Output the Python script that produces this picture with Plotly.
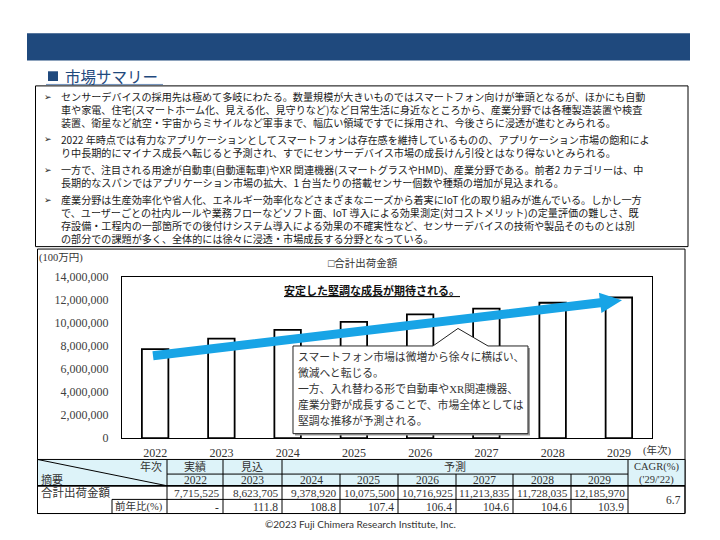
import plotly.graph_objects as go

# ---------------- data ----------------
years = ["2022", "2023", "2024", "2025", "2026", "2027", "2028", "2029"]
values = [7715525, 8623705, 9378920, 10075500, 10716925, 11213835, 11728035, 12185970]
yoy = ["-", "111.8", "108.8", "107.4", "106.4", "104.6", "104.6", "103.9"]
phase_labels = ["実績", "見込", "予測"]
cagr_value = "6.7"
series_name = "合計出荷金額"
y_ticks = [0, 2000000, 4000000, 6000000, 8000000, 10000000, 12000000, 14000000]

bullets = [
    ["センサーデバイスの採用先は極めて多岐にわたる。数量規模が大きいものではスマートフォン向けが筆頭となるが、ほかにも自動",
     "車や家電、住宅(スマートホーム化、見える化、見守りなど)など日常生活に身近なところから、産業分野では各種製造装置や検査",
     "装置、衛星など航空・宇宙からミサイルなど軍事まで、幅広い領域ですでに採用され、今後さらに浸透が進むとみられる。"],
    ["2022 年時点では有力なアプリケーションとしてスマートフォンは存在感を維持しているものの、アプリケーション市場の飽和によ",
     "り中長期的にマイナス成長へ転じると予測され、すでにセンサーデバイス市場の成長けん引役とはなり得ないとみられる。"],
    ["一方で、注目される用途が自動車(自動運転車)やXR 関連機器(スマートグラスやHMD)、産業分野である。前者2 カテゴリーは、中",
     "長期的なスパンではアプリケーション市場の拡大、1 台当たりの搭載センサー個数や種類の増加が見込まれる。"],
    ["産業分野は生産効率化や省人化、エネルギー効率化などさまざまなニーズから着実にIoT 化の取り組みが進んでいる。しかし一方",
     "で、ユーザーごとの社内ルールや業務フローなどソフト面、IoT 導入による効果測定(対コストメリット)の定量評価の難しさ、既",
     "存設備・工程内の一部箇所での後付けシステム導入による効果の不確実性など、センサーデバイスの技術や製品そのものとは別",
     "の部分での課題が多く、全体的には徐々に浸透・市場成長する分野となっている。"],
]
callout_lines = [
    "スマートフォン市場は微増から徐々に横ばい、",
    "微減へと転じる。",
    "一方、入れ替わる形で自動車やXR関連機器、",
    "産業分野が成長することで、市場全体としては",
    "堅調な推移が予測される。",
]
chart_title = "安定した堅調な成長が期待される。"
section_title = "市場サマリー"
copyright_text = "©2023 Fuji Chimera Research Institute, Inc."

# ---------------- helpers ----------------
W, H = 720, 540
SERIF = "Liberation Serif, Noto Sans CJK JP"
SANS = "Noto Sans CJK JP, Noto Sans"
NAVY = "#1F497D"
TXT = "#333333"


def X(p):
    return p / W


def Y(p):
    return 1 - p / H


shapes = []
annotations = []


def rect(x0, y0, x1, y1, fill=None, lc="black", lw=1, layer="below"):
    shapes.append(dict(type="rect", xref="paper", yref="paper",
                       x0=X(x0), x1=X(x1), y0=Y(y1), y1=Y(y0),
                       fillcolor=fill if fill else "rgba(0,0,0,0)",
                       line=dict(color=lc, width=lw), layer=layer))


def seg(x0, y0, x1, y1, lc="black", lw=1, layer="below"):
    shapes.append(dict(type="line", xref="paper", yref="paper",
                       x0=X(x0), x1=X(x1), y0=Y(y0), y1=Y(y1),
                       line=dict(color=lc, width=lw), layer=layer))


def path(pts, fill, lc, lw, layer="above"):
    d = "M " + " L ".join(f"{X(a):.5f},{Y(b):.5f}" for a, b in pts) + " Z"
    shapes.append(dict(type="path", xref="paper", yref="paper", path=d,
                       fillcolor=fill, line=dict(color=lc, width=lw), layer=layer))


def txt(x, y, text, size, color="#1a1a1a", family=SANS, xanchor="left", align="left"):
    annotations.append(dict(x=X(x), y=Y(y), xref="paper", yref="paper", text=text,
                            showarrow=False, xanchor=xanchor, yanchor="middle", borderpad=0,
                            align=align,
                            font=dict(size=size, color=color, family=family)))


# ---------------- header ----------------
rect(27, 27, 690, 55, fill=NAVY, lc=NAVY, lw=0)
rect(48, 66, 58, 76, fill=NAVY, lc=NAVY, lw=0)
txt(64, 71, section_title, 15.5, color=NAVY)
seg(46, 79.5, 163, 79.5, lc="#6f8fb8", lw=1)

# ---------------- summary box ----------------
rect(35.5, 81, 688, 246, lc="black", lw=1)
SUM_FS = 10.1
LH = SUM_FS * 1.3
first_y = [92, 136, 167, 198]
for blines, fy in zip(bullets, first_y):
    txt(43, fy, "➢", 9, color="#1a1a1a", family="DejaVu Sans")
    center = fy + (len(blines) - 1) * LH / 2
    txt(60, center, "<br>".join(blines), SUM_FS)

# ---------------- chart box ----------------
rect(37.5, 248.5, 685, 520, lc="black", lw=1)
txt(38, 258, "(100万円)", 10.5, color=TXT, family=SERIF)
txt(642, 455, "(年次)", 10.5, color=TXT, family=SERIF)
txt(372, 291, f"<b><u>{chart_title}</u></b>", 11, color="#111111", family=SERIF, xanchor="center")
txt(327, 263, "□" + series_name, 10.5, color=TXT, family=SERIF)

# callout box with pointer (drawn above bars)
cal = [(293, 348), (433, 348), (458, 330), (488, 348), (528, 348), (528, 438), (293, 438)]
path([(a + 2, b + 2) for a, b in cal], "#9a9a9a", "#9a9a9a", 0)
path(cal, "white", "#222222", 1)
for i, t in enumerate(callout_lines):
    txt(297, 359 + i * 16.3, t, 10.8, color=TXT, family=SERIF)

# growth arrow
sx, sy, tx, ty = 153, 358, 622, 301
dx, dy = tx - sx, ty - sy
L = (dx * dx + dy * dy) ** 0.5
ux, uy = dx / L, dy / L
nx, ny = -uy, ux
hw, HW, HL = 4.6, 10.5, 22
bx, by = tx - HL * ux, ty - HL * uy
arrow = [(sx + hw * nx, sy + hw * ny), (bx + hw * nx, by + hw * ny), (bx + HW * nx, by + HW * ny),
         (tx, ty), (bx - HW * nx, by - HW * ny), (bx - hw * nx, by - hw * ny), (sx - hw * nx, sy - hw * ny)]
path(arrow, "#18A4E6", "#18A4E6", 0)

# ---------------- table ----------------
cols = [37.5, 167, 223, 282, 340, 398, 456, 513, 571, 628, 685]
r0, r1, r2, r3, r4 = 464.5, 479.5, 491.5, 505.5, 520
HEAD_BG = "#DDF3F9"
rect(cols[0], r0, cols[-1], r2, fill=HEAD_BG, lc="black", lw=1)
rect(cols[0], r2, cols[-1], r4, lc="black", lw=1)
seg(cols[0], r2, cols[-1], r2, lw=1.6)
seg(cols[0], r0, cols[1], r2, lw=1)  # diagonal
for j, c in enumerate(cols[1:-1], start=1):
    if 4 <= j <= 8:
        seg(c, r1, c, r4)
    else:
        seg(c, r0, c, r4)
seg(cols[1], r1, cols[-2], r1)
seg(112, r3, cols[-2], r3)
seg(112, r3, 112, r4)

txt(163, 472, "年次", 11, color=TXT, family=SERIF, xanchor="right")
txt(40, 486, "摘要", 11, color=TXT, family=SERIF)
txt((cols[1] + cols[2]) / 2, 472, phase_labels[0], 11, color=TXT, family=SERIF, xanchor="center")
txt((cols[2] + cols[3]) / 2, 472, phase_labels[1], 11, color=TXT, family=SERIF, xanchor="center")
txt((cols[3] + cols[9]) / 2, 472, phase_labels[2], 11, color=TXT, family=SERIF, xanchor="center")
txt((cols[9] + cols[10]) / 2, 472, "CAGR(%)", 10.5, color=TXT, family=SERIF, xanchor="center")
txt((cols[9] + cols[10]) / 2, 485.5, "('29/'22)", 10.5, color=TXT, family=SERIF, xanchor="center")
txt(40, 498.5, series_name, 11.5, color=TXT, family=SERIF)
txt(164, 513, "前年比(%)", 10.5, color=TXT, family=SERIF, xanchor="right")
for i, yr in enumerate(years):
    cx = (cols[i + 1] + cols[i + 2]) / 2
    txt(cx, 485.5, yr, 11.5, color=TXT, family=SERIF, xanchor="center")
    txt(cols[i + 2] - 2, 498.5, f"{values[i]:,}", 11.3, color=TXT, family=SERIF, xanchor="right")
    txt(cols[i + 2] - 3, 513, yoy[i], 11.5, color=TXT, family=SERIF, xanchor="right")
txt(cols[10] - 3, 506, cagr_value, 11.5, color=TXT, family=SERIF, xanchor="right")

txt(360, 531, copyright_text, 10, color=TXT, family="Lato, Noto Sans", xanchor="center")

# ---------------- figure ----------------
fig = go.Figure()
fig.add_trace(go.Bar(x=years, y=values, name=series_name, width=0.4,
                     marker=dict(color="white", line=dict(color="black", width=1.8)),
                     showlegend=False))

fig.update_layout(
    width=W, height=H, autosize=False,
    margin=dict(l=0, r=0, t=0, b=0),
    paper_bgcolor="white", plot_bgcolor="rgba(0,0,0,0)",
    shapes=shapes, annotations=annotations,
    showlegend=False,
    xaxis=dict(domain=[X(122), X(652)], type="category", showline=True, mirror=True,
               linecolor="black", linewidth=1, ticks="", showgrid=False,
               tickfont=dict(family=SERIF, size=12, color=TXT), ticklabelstandoff=3),
    yaxis=dict(domain=[Y(442.7), Y(276.7)], range=[0, 14000000], tickvals=y_ticks,
               tickformat=",", showline=True, mirror=True, linecolor="black", linewidth=1,
               ticks="", showgrid=False, zeroline=False,
               tickfont=dict(family=SERIF, size=12, color="#404040"), ticklabelstandoff=10),
)

fig.write_html("out.html")
